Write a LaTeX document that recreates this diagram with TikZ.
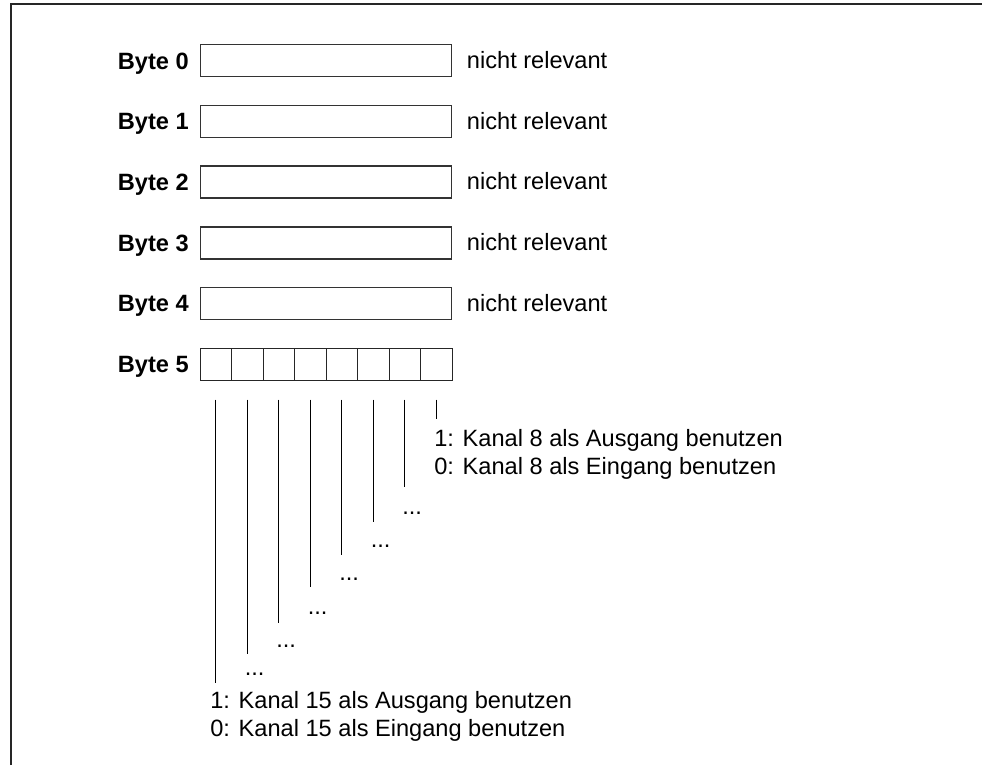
\documentclass[tikz,border=0pt]{standalone}
\usepackage{fontspec}
\setmainfont{Liberation Sans}
\begin{document}
\begin{tikzpicture}[x=0.75pt,y=-0.75pt,
  frame/.style={line width=1.5pt, black!85},
  bytebox/.style={draw=black!80, line width=1.1pt, minimum width=188.25pt, minimum height=24pt, inner sep=0pt, anchor=north west},
  cell/.style={draw=black!85, line width=1.1pt, minimum width=23.625pt, minimum height=24pt, inner sep=0pt, anchor=north west},
  lbl/.style={font=\fontsize{17.7}{20}\selectfont\bfseries, inner sep=0pt, anchor=base east},
  txt/.style={font=\fontsize{17.7}{20}\selectfont, inner sep=0pt, anchor=base west},
  bitline/.style={line width=0.75pt, black}]
\useasboundingbox (0,0) rectangle (982,765);
\coordinate (fa) at (11,765);
\coordinate (fb) at (11,4);
\coordinate (fc) at (982,4);
\draw[frame] (fa) -- (fb) -- (fc);
\foreach \i in {0,...,4}{
  \node[bytebox] (b\i) at (200,{44+60.7*\i}) {};
  \node[lbl] (l\i) at (189,{60+60.7*\i+9}) {Byte \i};
  \node[txt] (n\i) at (466.7,{60+60.7*\i+8.5}) {nicht relevant};
}
\node[lbl] (l5) at (189,{363.4+9}) {Byte 5};
\foreach \k in {0,...,7}{
  \node[cell] (c\k) at ({199.5+31.5*\k},347.5) {};
  \coordinate (t\k) at ([yshift=-13.9pt]c\k.south);
}
\foreach \k/\e in {0/683,1/654,2/623,3/587,4/555,5/522,6/487,7/419}{
  \coordinate (e\k) at (t\k |- 0,\e);
  \draw[bitline] (t\k) -- (e\k);
}
\foreach \k/\yb in {1/675,2/647,3/614,4/580,5/547,6/514}{
  \node[txt] (d\k) at ([xshift=-2.2pt]e\k |- 0,\yb) {...};
}
\node[txt] (a8) at (434,446) {1: Kanal 8 als Ausgang benutzen};
\node[txt] (b8) at (434,474) {0: Kanal 8 als Eingang benutzen};
\node[txt] (a15) at (210,708) {1: Kanal 15 als Ausgang benutzen};
\node[txt] (b15) at (210,736) {0: Kanal 15 als Eingang benutzen};
\end{tikzpicture}
\end{document}
